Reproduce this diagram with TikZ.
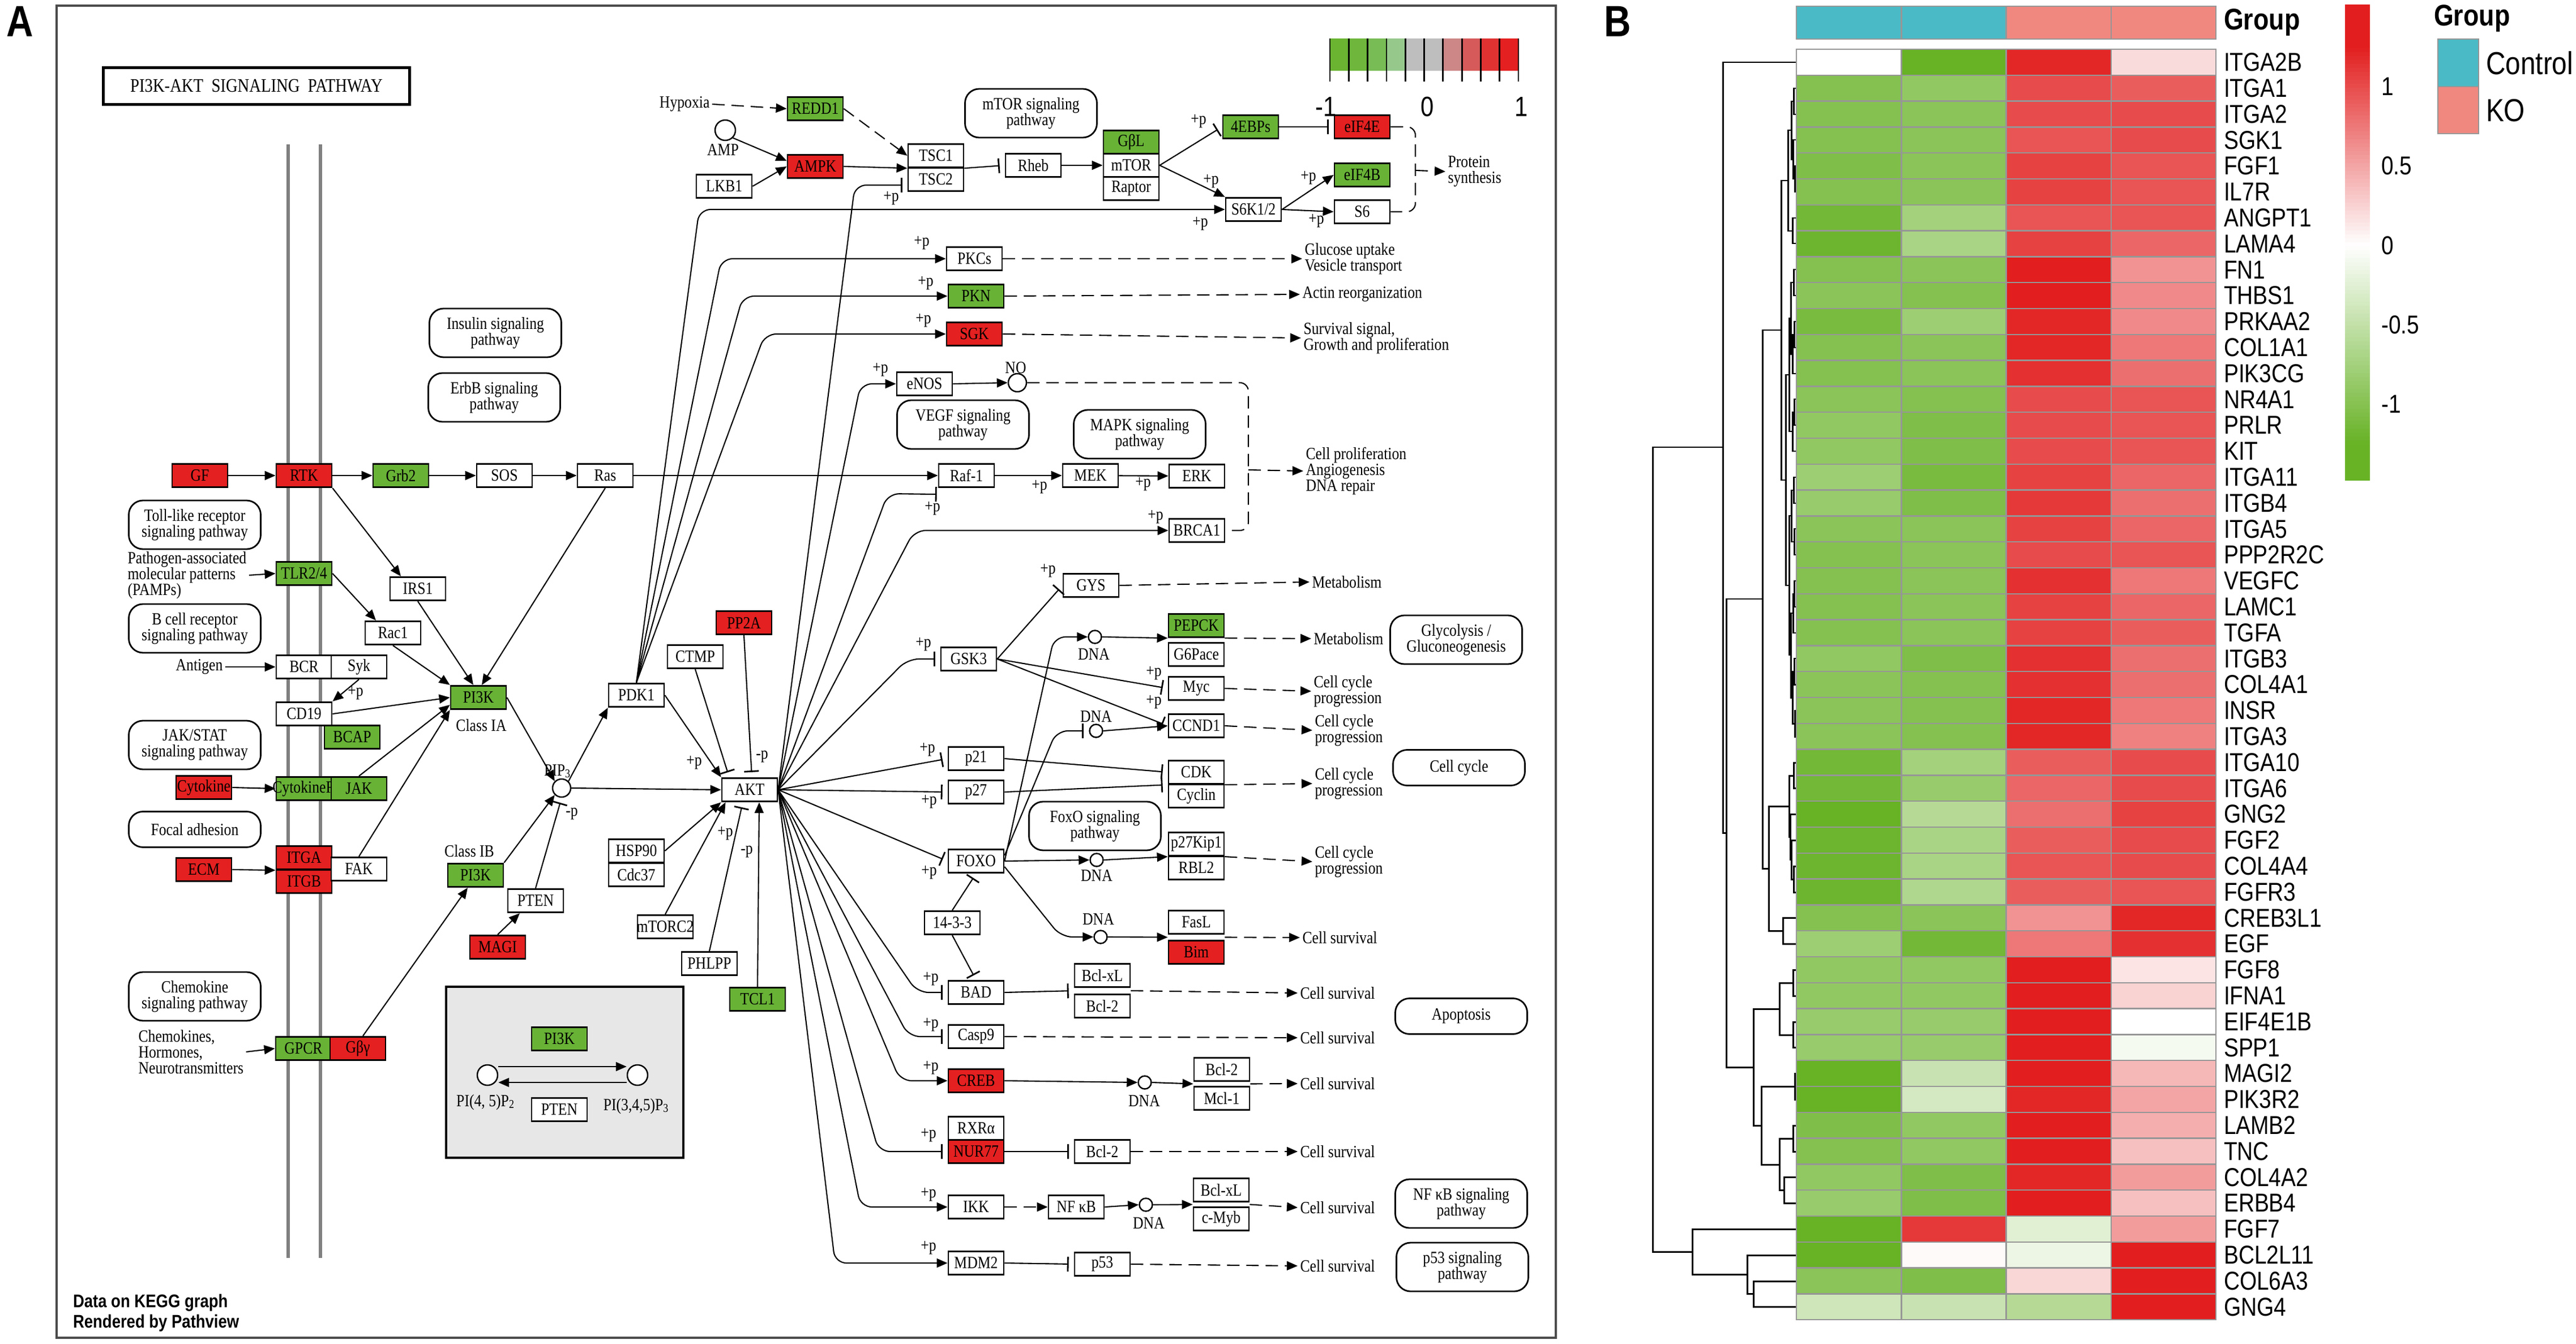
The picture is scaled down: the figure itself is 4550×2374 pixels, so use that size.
\documentclass[tikz,border=0pt]{standalone}
\usepackage{fontspec}
\setmainfont{Liberation Serif}
\newfontfamily\keggfont[FakeStretch=0.85]{Liberation Serif}
\newfontfamily\hmfont[FakeStretch=0.85]{Liberation Sans}
\usetikzlibrary{arrows.meta,calc,positioning}

\definecolor{keggred}{RGB}{228,32,32}
\definecolor{kegggreen}{RGB}{104,178,54}
\definecolor{hmred}{RGB}{226,30,30}
\definecolor{hmgreen}{RGB}{103,178,37}
\definecolor{ctrlteal}{RGB}{74,187,198}
\definecolor{kosalmon}{RGB}{240,136,128}
\definecolor{gridgray}{RGB}{150,150,150}
\definecolor{railgray}{RGB}{128,128,128}
\definecolor{boxgray}{RGB}{231,231,231}

\tikzset{
  gene/.style={draw, rectangle, fill=white, line width=0.8pt, minimum width=9.8mm,
    minimum height=4.15mm, inner sep=0pt, font=\keggfont\fontsize{8.6}{9}\selectfont},
  upreg/.style={fill=keggred},
  downreg/.style={fill=kegggreen},
  pathway/.style={draw, rounded corners=2.5mm, line width=0.8pt, minimum width=23.3mm,
    minimum height=8.6mm, align=center, inner sep=0pt, font=\keggfont\fontsize{8.6}{8}\selectfont},
  keggtxt/.style={font=\keggfont\fontsize{8.6}{8}\selectfont, inner sep=1pt, align=left},
  plab/.style={font=\keggfont\fontsize{8.6}{9}\selectfont, inner sep=0pt},
  cpd/.style={circle, draw, fill=white, line width=0.7pt, minimum size=3.2mm, inner sep=0pt},
  dnacirc/.style={cpd, minimum size=2.3mm},
  act/.style={-{Triangle[length=1.9mm,width=1.6mm]}},
  inh/.style={-{Bar[width=2.6mm,line width=0.8pt]}, shorten >=0.9mm},
  dashline/.style={dash pattern=on 2.2mm off 1.2mm},
  dashact/.style={act, dashline},
  hmlabel/.style={font=\hmfont\fontsize{13}{13}\selectfont, anchor=west, inner sep=0pt},
  dendro/.style={line width=0.85pt}
}

\begin{document}
\begin{tikzpicture}[x=0.1mm,y=-0.1mm,line width=0.6pt]
\useasboundingbox (0,0) rectangle (4550,2374);

% ---------- panel A ----------
\node[font=\hmfont\bfseries\fontsize{22}{22}\selectfont, inner sep=0pt] (panelA) at (35,38) {A};
\draw[line width=1pt, black!70] (100,10) rectangle (2748,2363);
\node[draw, line width=1.2pt, minimum width=54.1mm, minimum height=6.5mm,
  font=\keggfont\fontsize{9.6}{10}\selectfont] (title) at (453,152) {PI3K-AKT\ \ SIGNALING\ \ PATHWAY};

\draw[railgray, line width=0.65mm] (509,255) -- (509,2222);
\draw[railgray, line width=0.65mm] (566,255) -- (566,2222);

% colour key
\foreach \r/\gg/\b [count=\k from 0] in {106/180/50,110/182/60,120/188/85,150/200/140,190/190/190,
    190/190/190,205/135/135,215/90/90,225/50/50,228/32/32}{
  \definecolor{keyc}{RGB}{\r,\gg,\b}
  \fill[keyc] ({2349+33.3*\k},68) rectangle ({2349+33.3*(\k+1)},125);
}
\foreach \k in {0,...,10}
  \draw[line width=0.8pt] ({2349+33.3*\k},68) -- ({2349+33.3*\k},144);
\node[font=\hmfont\fontsize{14}{14}\selectfont, inner sep=0pt] (keylo) at (2342,189) {-1};
\node[font=\hmfont\fontsize{14}{14}\selectfont, inner sep=0pt] (keymid) at (2521,189) {0};
\node[font=\hmfont\fontsize{14}{14}\selectfont, inner sep=0pt] (keyhi) at (2687,189) {1};

% inset box
\filldraw[fill=boxgray, line width=1.4pt] (788,1743) rectangle (1207,2045);

\begin{scope}[every node/.style={pathway}]
  \node (pwIns) at (875,588) {Insulin signaling\\pathway};
  \node (pwErbB) at (873,702) {ErbB signaling\\pathway};
  \node (pwToll) at (344,927) {Toll-like receptor\\signaling pathway};
  \node (pwBcell) at (344,1110) {B cell receptor\\signaling pathway};
  \node (pwJak) at (344,1316) {JAK/STAT\\signaling pathway};
  \node[minimum height=6.3mm] (pwFocal) at (344,1465) {Focal adhesion};
  \node (pwChemo) at (344,1760) {Chemokine\\signaling pathway};
  \node (pwmTOR) at (1821,200) {mTOR signaling\\pathway};
  \node (pwVEGF) at (1701,750) {VEGF signaling\\pathway};
  \node (pwMAPK) at (2013,767) {MAPK signaling\\pathway};
  \node (pwFoxO) at (1934,1459) {FoxO signaling\\pathway};
  \node (pwGly) at (2572,1130) {Glycolysis /\\Gluconeogenesis};
  \node[minimum height=6.3mm] (pwCC) at (2577,1356) {Cell cycle};
  \node[minimum height=6.3mm] (pwApo) at (2581,1795) {Apoptosis};
  \node (pwNFkB) at (2581,2126) {NF κB signaling\\pathway};
  \node (pwp53) at (2583,2238) {p53 signaling\\pathway};
\end{scope}

\begin{scope}[every node/.style={gene}]
  \node[upreg] (GF) at (353,840) {GF};
  \node[upreg] (RTK) at (537,840) {RTK};
  \node[downreg] (Grb2) at (708,840) {Grb2};
  \node (SOS) at (891,840) {SOS};
  \node (Ras) at (1069,840) {Ras};
  \node (Raf1) at (1707,840) {Raf-1};
  \node (MEK) at (1926,840) {MEK};
  \node (ERK) at (2114,841) {ERK};
  \node (BRCA1) at (2114,937) {BRCA1};
  \node[downreg] (TLR) at (537,1013) {TLR2/4};
  \node (IRS1) at (738,1040) {IRS1};
  \node (Rac1) at (694,1118) {Rac1};
  \node (BCR) at (537,1178) {BCR};
  \node (Syk) at (634,1178) {Syk};
  \node (CD19) at (537,1261) {CD19};
  \node[downreg] (BCAP) at (622,1302) {BCAP};
  \node[downreg] (PI3Ka) at (845,1232) {PI3K};
  \node[upreg] (Cytokine) at (360,1391) {Cytokine};
  \node[downreg] (CytoR) at (537,1393) {\makebox[0pt]{CytokineR}};
  \node[downreg] (JAK) at (634,1393) {JAK};
  \node[upreg] (ECM) at (360,1536) {ECM};
  \node[upreg] (ITGA) at (537,1515) {ITGA};
  \node[upreg] (ITGB) at (537,1557) {ITGB};
  \node (FAK) at (634,1535) {FAK};
  \node[downreg] (PI3Kb) at (840,1546) {PI3K};
  \node (PTEN) at (946,1591) {PTEN};
  \node[upreg] (MAGI) at (879,1673) {MAGI};
  \node[downreg] (GPCR) at (536,1852) {GPCR};
  \node[upreg] (Gby) at (632,1852) {Gβγ};
  \node[downreg] (PI3Kin) at (988,1835) {PI3K};
  \node (PTENin) at (988,1960) {PTEN};
  \node (PDK1) at (1124,1228) {PDK1};
  \node (CTMP) at (1228,1160) {CTMP};
  \node[upreg] (PP2A) at (1314,1100) {PP2A};
  \node (AKT) at (1324,1395) {AKT};
  \node (HSP90) at (1124,1503) {HSP90};
  \node (Cdc37) at (1124,1545) {Cdc37};
  \node (mTORC2) at (1175,1637) {\makebox[0pt]{mTORC2}};
  \node (PHLPP) at (1253,1702) {PHLPP};
  \node[downreg] (TCL1) at (1338,1765) {TCL1};
  \node[downreg] (REDD1) at (1440,192) {REDD1};
  \node[upreg] (AMPK) at (1440,294) {AMPK};
  \node (LKB1) at (1279,329) {LKB1};
  \node (TSC1) at (1653,275) {TSC1};
  \node (TSC2) at (1653,317) {TSC2};
  \node (Rheb) at (1825,292) {Rheb};
  \node[downreg] (GbL) at (1998,251) {GβL};
  \node (mTOR) at (1998,292) {mTOR};
  \node (Raptor) at (1998,333) {Raptor};
  \node[downreg] (EBP) at (2209,224) {4EBPs};
  \node[upreg] (eIFE) at (2406,224) {eIF4E};
  \node[downreg] (eIFB) at (2406,309) {eIF4B};
  \node (S6K) at (2214,370) {S6K1/2};
  \node (S6) at (2406,374) {S6};
  \node (PKCs) at (1721,457) {PKCs};
  \node[downreg] (PKN) at (1724,523) {PKN};
  \node[upreg] (SGK) at (1721,590) {SGK};
  \node (eNOS) at (1633,678) {eNOS};
  \node (GSK3) at (1711,1164) {GSK3};
  \node (GYS) at (1927,1034) {GYS};
  \node[downreg] (PEPCK) at (2113,1105) {PEPCK};
  \node (G6Pace) at (2113,1156) {G6Pace};
  \node (Myc) at (2113,1216) {Myc};
  \node (CCND1) at (2113,1282) {CCND1};
  \node (p21) at (1724,1340) {p21};
  \node (p27) at (1724,1399) {p27};
  \node (CDK) at (2113,1364) {CDK};
  \node (Cyclin) at (2113,1406) {Cyclin};
  \node (FOXO) at (1724,1521) {FOXO};
  \node (p27Kip1) at (2113,1491) {p27Kip1};
  \node (RBL2) at (2113,1533) {RBL2};
  \node (n1433) at (1682,1630) {14-3-3};
  \node (FasL) at (2113,1629) {FasL};
  \node[upreg] (Bim) at (2113,1682) {Bim};
  \node (BAD) at (1724,1753) {BAD};
  \node (BclxLa) at (1947,1723) {Bcl-xL};
  \node (Bcl2a) at (1947,1777) {Bcl-2};
  \node (Casp9) at (1724,1831) {Casp9};
  \node[upreg] (CREB) at (1724,1909) {CREB};
  \node (Bcl2b) at (2158,1889) {Bcl-2};
  \node (Mcl1) at (2158,1940) {Mcl-1};
  \node (RXRa) at (1724,1993) {RXRα};
  \node[upreg] (NUR77) at (1724,2034) {NUR77};
  \node (Bcl2c) at (1947,2034) {Bcl-2};
  \node (IKK) at (1724,2132) {IKK};
  \node (NFkB) at (1901,2132) {NF κB};
  \node (BclxLd) at (2157,2102) {Bcl-xL};
  \node (cMyb) at (2157,2153) {c-Myb};
  \node (MDM2) at (1724,2231) {MDM2};
  \node (p53) at (1947,2233) {p53};
\end{scope}

% compounds
\node[cpd] (PIP3) at (992,1392) {};
\node[cpd, minimum size=3.6mm] (AMP) at (1281,230) {};
\node[cpd] (NO) at (1797,676) {};
\node[cpd, minimum size=3.6mm] (c45) at (861,1899) {};
\node[cpd, minimum size=3.6mm] (c345) at (1126,1899) {};
\node[dnacirc] (dna1) at (1934,1125) {};
\node[dnacirc] (dna2) at (1936,1291) {};
\node[dnacirc] (dna3) at (1937,1519) {};
\node[dnacirc] (dna4) at (1944,1655) {};
\node[dnacirc] (dna5) at (2022,1912) {};
\node[dnacirc] (dna6) at (2024,2128) {};

\begin{scope}[every node/.style={plab}]
  \node (lPIP3) at (985,1362) {PIP\textsubscript{3}};
  \node (lAMP) at (1277,265) {AMP};
  \node (lNO) at (1794,650) {NO};
  \node (lP2) at (858,1947) {PI(4, 5)P\textsubscript{2}};
  \node (lP3) at (1124,1954) {PI(3,4,5)P\textsubscript{3}};
  \node (lIA) at (850,1281) {Class IA};
  \node (lIB) at (829,1503) {Class IB};
  \node (lD1) at (1932,1156) {DNA};
  \node (lD2) at (1936,1266) {DNA};
  \node (lD3) at (1937,1547) {DNA};
  \node (lD4) at (1940,1624) {DNA};
  \node (lD5) at (2021,1945) {DNA};
  \node (lD6) at (2029,2161) {DNA};
\end{scope}
\foreach \plx/\ply/\plt [count=\n] in {1574/350/+p,2117/214/+p,2139/320/+p,2120/395/+p,2311/314/+p,
    2325/390/+p,1628/429/+p,1635/500/+p,1631/566/+p,1555/653/+p,1647/898/+p,1836/860/+p,2019/855/+p,
    2041/913/+p,628/1224/+p,1631/1138/+p,1851/1008/+p,2038/1189/+p,2038/1240/+p,1638/1324/+p,
    1641/1416/+p,1641/1541/+p,1226/1347/+p,1281/1472/+p,1644/1729/+p,1644/1810/+p,1644/1886/+p,
    1640/2005/+p,1640/2110/+p,1640/2204/+p,1346/1337/-p,1010/1438/-p,1319/1505/-p}
  \node[plab] (pl\n) at (\plx,\ply) {\plt};

\begin{scope}[every node/.style={keggtxt, anchor=west}]
  \node (pamp) at (221,1016) {Pathogen-associated\\molecular patterns\\(PAMPs)};
  \node (chem) at (240,1858) {Chemokines,\\Hormones,\\Neurotransmitters};
  \node[anchor=east] (ant) at (398,1178) {Antigen};
  \node[anchor=east] (hyp) at (1258,184) {Hypoxia};
  \node (gu) at (2300,457) {Glucose uptake\\Vesicle transport};
  \node (ar) at (2296,520) {Actin reorganization};
  \node (ss) at (2298,597) {Survival signal,\\Growth and proliferation};
  \node (ps) at (2553,303) {Protein\\synthesis};
  \node (cp) at (2302,832) {Cell proliferation\\Angiogenesis\\DNA repair};
  \node (met1) at (2313,1028) {Metabolism};
  \node (met2) at (2316,1128) {Metabolism};
  \node (cc1) at (2316,1221) {Cell cycle\\progression};
  \node (cc2) at (2318,1290) {Cell cycle\\progression};
  \node (cc3) at (2318,1384) {Cell cycle\\progression};
  \node (cc4) at (2318,1522) {Cell cycle\\progression};
  \node (cs1) at (2296,1656) {Cell survival};
  \node (cs2) at (2292,1754) {Cell survival};
  \node (cs3) at (2292,1833) {Cell survival};
  \node (cs4) at (2292,1914) {Cell survival};
  \node (cs5) at (2292,2034) {Cell survival};
  \node (cs6) at (2292,2133) {Cell survival};
  \node (cs7) at (2292,2236) {Cell survival};
\end{scope}
\node[anchor=west, align=left, inner sep=0pt,
  font=\hmfont\bfseries\fontsize{9.2}{10.4}\selectfont] (credit) at (128,2319) {Data on KEGG graph\\Rendered by Pathview};

\coordinate (gapF) at ($(FasL.south west)!0.5!(Bim.north west)$);
\coordinate (gapFe) at ($(FasL.south east)!0.5!(Bim.north east)$);
\coordinate (gapA) at ($(BclxLa.south west)!0.5!(Bcl2a.north west)$);
\coordinate (gapAe) at ($(BclxLa.south east)!0.5!(Bcl2a.north east)$);
\coordinate (gapB) at ($(Bcl2b.south west)!0.5!(Mcl1.north west)$);
\coordinate (gapBe) at ($(Bcl2b.south east)!0.5!(Mcl1.north east)$);
\coordinate (gapC) at ($(BclxLd.south west)!0.5!(cMyb.north west)$);
\coordinate (gapCe) at ($(BclxLd.south east)!0.5!(cMyb.north east)$);
\coordinate (rafin) at ($(Raf1.south west)+(7,11)$);
\coordinate (nobrace) at (2205,830);
\coordinate (psbrace) at (2500,301);

\begin{scope}[every edge/.style={draw, line width=0.6pt}]
  \path (GF) edge[act] (RTK);
  \path (RTK) edge[act] (Grb2);
  \path (Grb2) edge[act] (SOS);
  \path (SOS) edge[act] (Ras);
  \path (Ras) edge[act] (Raf1);
  \path (Raf1) edge[act] (MEK);
  \path (MEK) edge[act] (ERK);
  \path (RTK.south east) edge[act] ([xshift=-3mm]IRS1.north);
  \path (IRS1.south) edge[act] ([xshift=-0.9mm]PI3Ka.north);
  \path (Ras.south) edge[act] ([xshift=0.6mm]PI3Ka.north);
  \path (TLR.east) edge[act] ([xshift=-3mm]Rac1.north);
  \path (Rac1.south) edge[act] (PI3Ka.north west);
  \path (pamp.east) edge[act] (TLR.west);
  \path (ant.east) edge[act] (BCR.west);
  \path (Syk.south) edge[act] (CD19.north east);
  \path (CD19.east) edge[act] (PI3Ka.west);
  \path (JAK.north) edge[act] ([yshift=-1.3mm]PI3Ka.west);
  \path (FAK.north) edge[act] (PI3Ka.south west);
  \path (Cytokine.east) edge[act] (CytoR.west);
  \path (ECM.east) edge[act] (ITGA.south west);
  \path (chem.east) edge[act] (GPCR.west);
  \path ([xshift=0.9mm]Gby.north) edge[act] ([xshift=-1.4mm]PI3Kb.south);
  \path (PI3Ka.east) edge[act] (PIP3.north west);
  \path (PI3Kb.north east) edge[act] (PIP3.south west);
  \path (MAGI.north) edge[act] ([xshift=-2.8mm]PTEN.south);
  \path (PTEN.north) edge[inh] (PIP3.south);
  \path (PIP3.north east) edge[act] (PDK1.south west);
  \path (PIP3.east) edge[act] (AKT.west);
  \path (PDK1.east) edge[act] (AKT.north west);
  \path (CTMP.south) edge[inh] ([xshift=-3.6mm]AKT.north);
  \path (PP2A.south) edge[inh] ([xshift=0.4mm]AKT.north);
  \path (HSP90.east) edge[act] (AKT.south west);
  \path (mTORC2.north) edge[act] ([xshift=0.8mm]AKT.south west);
  \path (PHLPP.north) edge[inh] ([xshift=-1.2mm]AKT.south);
  \path (TCL1.north) edge[act] ([xshift=1.7mm]AKT.south);
  \path ([yshift=1.5mm]c45.east) edge[act] ([yshift=1.5mm]c345.west);
  \path ([yshift=-1.3mm]c345.west) edge[act] ([yshift=-1.3mm]c45.east);

  \path (hyp.east) edge[dashact] (REDD1.west);
  \path (REDD1.east) edge[dashact] (TSC1.west);
  \path (AMP.south east) edge[act] ([yshift=1mm]AMPK.west);
  \path (LKB1.east) edge[act] (AMPK.west);
  \path (AMPK.east) edge[act] (TSC1.south west);
  \path (TSC1.south east) edge[inh] (Rheb.west);
  \path (Rheb.east) edge[act] (mTOR.west);
  \path (mTOR.east) edge[inh] (EBP.west);
  \path (mTOR.east) edge[act] (S6K.north west);
  \path (EBP.east) edge[inh] (eIFE.west);
  \path (S6K.east) edge[act] (eIFB.west);
  \path (S6K.east) edge[act] (S6.west);
  \path (psbrace) edge[dashact] (ps.west);
  \path (PKCs.east) edge[dashact] (gu.west);
  \path (PKN.east) edge[dashact] (ar.west);
  \path (SGK.east) edge[dashact] (ss.west);
  \path (eNOS.east) edge[act] (NO.west);
  \path (nobrace) edge[dashact] (cp.west);

  \path (AKT.east) edge[inh] (p21.west) edge[inh] (p27.west) edge[inh] (FOXO.west);
  \path (GSK3.east) edge[inh] (GYS.west) edge[inh] (Myc.west) edge[inh] (CCND1.west);
  \path (GYS.east) edge[dashact] (met1.west);
  \path (dna1.east) edge[act] (PEPCK.south west);
  \path (PEPCK.south east) edge[dashact] (met2.west);
  \path (Myc.east) edge[dashact] (cc1.west);
  \path (dna2.east) edge[act] (CCND1.west);
  \path (CCND1.east) edge[dashact] (cc2.west);
  \path (p21.east) edge[inh] (CDK.west);
  \path (p27.east) edge[inh] (CDK.south west);
  \path (CDK.south east) edge[dashact] (cc3.west);
  \path (FOXO.east) edge[act] (dna3.west);
  \path (dna3.east) edge[act] (p27Kip1.south west);
  \path (p27Kip1.south east) edge[dashact] (cc4.west);
  \path (n1433.north) edge[inh] (FOXO.south);
  \path (n1433.south) edge[inh] (BAD.north);
  \path (dna4.east) edge[act] (gapF);
  \path (gapFe) edge[dashact] (cs1.west);
  \path (BAD.east) edge[inh] (gapA);
  \path (gapAe) edge[dashact] (cs2.west);
  \path (Casp9.east) edge[dashact] (cs3.west);
  \path (CREB.east) edge[act] (dna5.west);
  \path (dna5.east) edge[act] (gapB);
  \path (gapBe) edge[dashact] (cs4.west);
  \path (NUR77.east) edge[inh] (Bcl2c.west);
  \path (Bcl2c.east) edge[dashact] (cs5.west);
  \path (IKK.east) edge[dashact] (NFkB.west);
  \path (NFkB.east) edge[act] (dna6.west);
  \path (dna6.east) edge[act] (gapC);
  \path (gapCe) edge[dashact] (cs6.west);
  \path (MDM2.east) edge[inh] (p53.west);
  \path (p53.east) edge[dashact] (cs7.west);
\end{scope}

\draw[dashline, rounded corners=1.5mm] (eIFE.east) -| (psbrace) |- (S6.east);
\draw[dashline, rounded corners=1.5mm] (NO.east) -| (nobrace) |- (BRCA1.east);

\begin{scope}[rounded corners=2mm]
  \draw[act] (PDK1.north) -- (1235,370) -- (S6K.west);
  \draw[act] (PDK1.north) -- (1274,457) -- (PKCs.west);
  \draw[act] (PDK1.north) -- (1312,523) -- (PKN.west);
  \draw[act] (PDK1.north) -- (1351,590) -- (SGK.west);
  \draw[inh] (AKT.east) -- (1510,327) -- ([yshift=-1mm]TSC2.west);
  \draw[act] (AKT.east) -- (1520,678) -- (eNOS.west);
  \draw[inh] (AKT.east) -- (1568,872) -- (rafin);
  \draw[act] (AKT.east) -- (1615,937) -- (BRCA1.west);
  \draw[inh] (AKT.east) -- (1603,1164) -- (GSK3.west);
  \draw[inh] (AKT.east) -- (1620,1753) -- (BAD.west);
  \draw[inh] (AKT.east) -- (1605,1831) -- (Casp9.west);
  \draw[act] (AKT.east) -- (1590,1909) -- (CREB.west);
  \draw[inh] (AKT.east) -- (1552,2034) -- (NUR77.west);
  \draw[act] (AKT.east) -- (1520,2132) -- (IKK.west);
  \draw[act] (AKT.east) -- (1475,2231) -- (MDM2.west);
  \draw[act] (FOXO.east) -- (1862,1125) -- (dna1.west);
  \draw[inh] ([yshift=1mm]FOXO.east) -- (1866,1291) -- (dna2.west);
  \draw[act] ([yshift=-1mm]FOXO.east) -- (1874,1655) -- (dna4.west);
\end{scope}

% ---------- panel B ----------
\node[font=\hmfont\bfseries\fontsize{22}{22}\selectfont, inner sep=0pt] (panelB) at (2857,38) {B};

\foreach \x/\ya/\xa/\yb/\xb in {
    3167/1713/3173/1759/3173, 3167/1805/3173/1850/3173, 3143/1736/3167/1828/3167,
    3170/1896/3173/1942/3173, 3167/1988/3173/2034/3173, 3151/2079/3173/2125/3173,
    3143/2011/3167/2102/3151, 3111/1919/3170/2057/3143, 3097/1782/3143/1988/3111,
    3149/1621/3173/1667/3173, 3168/1347/3173/1392/3173, 3168/1530/3173/1576/3173,
    3164/1484/3173/1553/3168, 3162/1438/3173/1518/3164, 3160/1370/3168/1478/3162,
    3124/1424/3160/1644/3149,
    3168/156/3173/202/3173, 3170/293/3173/339/3173, 3167/247/3173/316/3170,
    3164/179/3168/282/3167, 3166/385/3173/430/3173, 3158/230/3164/408/3166,
    3168/476/3173/522/3173, 3169/568/3173/614/3173, 3166/591/3169/660/3173,
    3163/499/3168/626/3166, 3169/705/3173/751/3173, 3166/728/3169/797/3173,
    3160/562/3163/762/3166, 3168/843/3173/889/3173, 3169/934/3173/980/3173,
    3164/866/3168/957/3169, 3169/1026/3173/1072/3173, 3167/1049/3169/1118/3173,
    3169/1163/3173/1209/3173, 3170/1255/3173/1301/3173, 3166/1186/3169/1278/3170,
    3163/1083/3167/1232/3166, 3160/911/3164/1157/3163, 3154/662/3160/1034/3160,
    3146/319/3158/848/3154,
    3113/583/3146/1534/3124, 3049/1058/3113/1885/3097, 3043/110/3173/1471/3049,
    3097/2263/3173/2308/3173, 3086/2217/3173/2285/3097, 2989/2171/3173/2251/3086,
    2919/790/3043/2211/2989}
  \draw[dendro] (\xa,\ya) -| (\x,\yb) -- (\xb,\yb);

\foreach \c [count=\j from 0] in {ctrlteal,ctrlteal,kosalmon,kosalmon}
  \filldraw[fill=\c, draw=gridgray, line width=0.7pt] ({3173+185.25*\j},11) rectangle ++(185.25,58);
\node[font=\hmfont\bfseries\fontsize{15}{15}\selectfont, anchor=west, inner sep=0pt] (grpbar) at (3927,40) {Group};

\foreach \g/\va/\vb/\vc/\vd [count=\i from 0] in {
    ITGA2B/0/-1.4/1.2/0.2, ITGA1/-1.0/-0.9/1.0/0.9, ITGA2/-1.0/-0.95/1.0/1.0,
    SGK1/-1.0/-0.95/0.95/1.0, FGF1/-1.05/-0.95/1.05/0.95, IL7R/-1.0/-0.95/1.05/0.95,
    ANGPT1/-1.15/-0.75/0.95/0.95, LAMA4/-1.2/-0.7/1.05/0.85, FN1/-1.0/-0.95/1.3/0.6,
    THBS1/-0.95/-1.0/1.25/0.65, PRKAA2/-1.1/-0.8/1.2/0.65, COL1A1/-1.0/-0.95/1.2/0.75,
    PIK3CG/-1.0/-0.95/1.15/0.8, NR4A1/-0.95/-1.0/1.0/0.95, PRLR/-0.9/-1.05/1.0/0.95,
    KIT/-0.9/-1.05/1.0/0.95, ITGA11/-0.8/-1.1/1.05/0.85, ITGB4/-0.85/-1.05/1.1/0.8,
    ITGA5/-0.95/-0.95/1.05/0.85, PPP2R2C/-1.0/-0.95/1.0/0.95, VEGFC/-1.0/-0.95/1.15/0.75,
    LAMC1/-1.0/-0.95/1.05/0.85, TGFA/-1.0/-0.95/1.05/0.9, ITGB3/-0.9/-1.05/1.15/0.8,
    COL4A1/-0.95/-1.0/1.15/0.8, INSR/-0.95/-1.0/1.2/0.75, ITGA3/-0.95/-1.0/1.2/0.7,
    ITGA10/-1.15/-0.75/0.9/1.0, ITGA6/-1.15/-0.85/0.85/1.0, GNG2/-1.25/-0.6/0.8/1.05,
    FGF2/-1.2/-0.7/0.9/1.0, COL4A4/-1.2/-0.7/0.95/1.0, FGFR3/-1.2/-0.65/0.9/0.95,
    CREB3L1/-1.0/-0.95/0.6/1.2, EGF/-0.8/-1.15/0.75/1.15, FGF8/-0.9/-0.9/1.45/0.15,
    IFNA1/-0.9/-0.9/1.4/0.25, EIF4E1B/-0.85/-0.85/1.45/0, SPP1/-0.85/-0.85/1.5/-0.08,
    MAGI2/-1.25/-0.45/1.3/0.4, PIK3R2/-1.35/-0.35/1.2/0.5, LAMB2/-1.05/-0.9/1.25/0.45,
    TNC/-1.0/-0.9/1.3/0.35, COL4A2/-0.9/-1.05/1.2/0.55, ERBB4/-0.85/-1.05/1.3/0.35,
    FGF7/-1.4/1.1/-0.25/0.55, BCL2L11/-1.3/0.03/-0.15/1.4, COL6A3/-0.95/-1.05/0.22/1.4,
    GNG4/-0.4/-0.45/-0.6/1.5}{
  \foreach \v [count=\j from 0] in {\va,\vb,\vc,\vd}{
    \pgfmathsetmacro{\pct}{min(100,abs(\v)*80)}
    \ifdim \v pt<0pt \def\hmhue{hmgreen}\else\def\hmhue{hmred}\fi
    \filldraw[fill=\hmhue!\pct!white, draw=gridgray, line width=0.7pt]
      ({3173+185.25*\j},{87+45.8*\i}) rectangle ++(185.25,45.8);
  }
  \node[hmlabel] (g\i) at (3927,{87+45.8*(\i+0.5)}) {\g};
}

% colour bar
\foreach \k in {0,...,119}{
  \pgfmathsetmacro{\cy}{8+7*\k}
  \pgfmathsetmacro{\cv}{(434-\cy-3.5)/281}
  \pgfmathsetmacro{\cp}{min(100,abs(\cv)*80)}
  \ifdim \cv pt<0pt \def\hmhue{hmgreen}\else\def\hmhue{hmred}\fi
  \fill[\hmhue!\cp!white] (4142,\cy) rectangle (4186,{\cy+7.5});
}
\foreach \t/\ty [count=\n] in {1/153,0.5/293,0/434,-0.5/574,-1/714}
  \node[hmlabel] (cb\n) at (4205,\ty) {\t};

% legend
\node[font=\hmfont\bfseries\fontsize{15}{15}\selectfont, anchor=west, inner sep=0pt] (lgTitle) at (4298,33) {Group};
\filldraw[fill=ctrlteal, draw=gridgray, line width=0.7pt] (4306,69) rectangle (4378,153);
\filldraw[fill=kosalmon, draw=gridgray, line width=0.7pt] (4306,153) rectangle (4378,236);
\node[font=\hmfont\fontsize{16}{16}\selectfont, anchor=west, inner sep=0pt] (lgCtrl) at (4390,111) {Control};
\node[font=\hmfont\fontsize{16}{16}\selectfont, anchor=west, inner sep=0pt] (lgKO) at (4390,195) {KO};

\end{tikzpicture}
\end{document}
